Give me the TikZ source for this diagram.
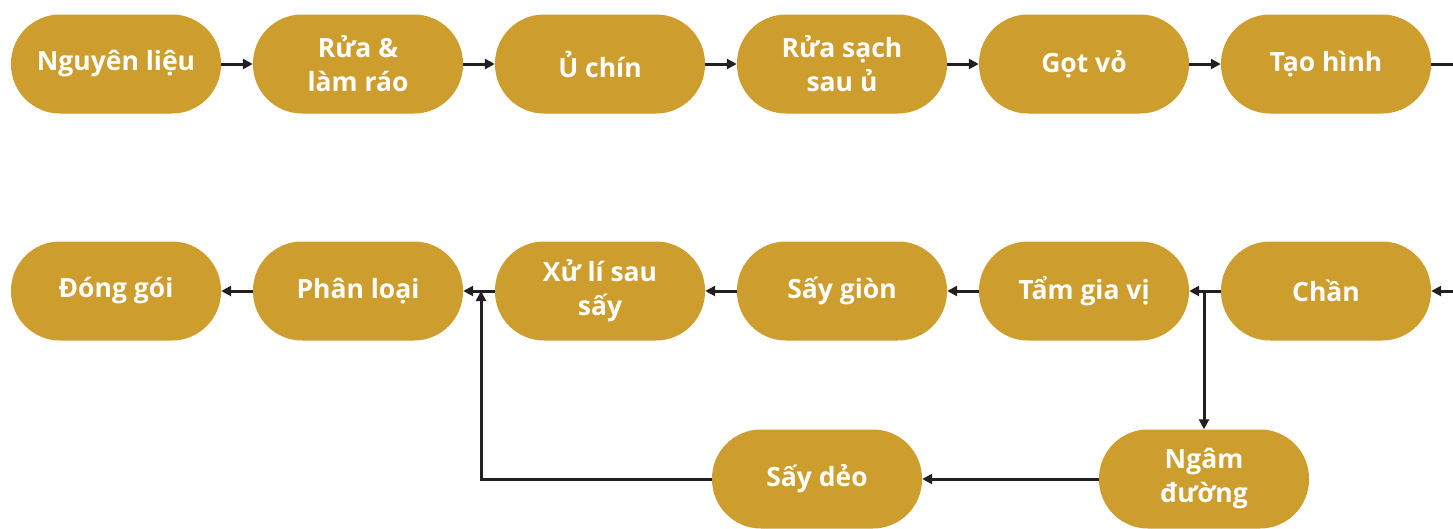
\documentclass[tikz,border=0pt]{standalone}
\usepackage{fontspec}
\setmainfont{Open Sans}
\usetikzlibrary{arrows.meta}
\definecolor{gold}{RGB}{205,157,46}
\definecolor{ink}{RGB}{35,31,32}
\tikzset{
  stepbox/.style={rectangle, rounded corners=49pt, fill=gold, draw=none,
    minimum width=210pt, minimum height=99pt, inner sep=0pt,
    text=white, align=center, font=\fontsize{26.5}{34}\selectfont\bfseries},
  conn/.style={draw=ink, line width=3pt, -{Triangle[length=10pt,width=10pt]}}
}
\begin{document}
\begin{tikzpicture}[x=1pt,y=-1pt]
\useasboundingbox (0,0) rectangle (1453,528);
% row 1
\node[stepbox] (n1) at (116,64) {Nguyên liệu};
\node[stepbox] (n2) at (358,64) {Rửa \&\\làm ráo};
\node[stepbox] (n3) at (600,64) {Ủ chín};
\node[stepbox] (n4) at (842,64) {Rửa sạch\\sau ủ};
\node[stepbox] (n5) at (1084,64) {Gọt vỏ};
\node[stepbox] (n6) at (1326,64) {Tạo hình};
% row 2
\node[stepbox] (m1) at (116,291) {Đóng gói};
\node[stepbox] (m2) at (358,291) {Phân loại};
\node[stepbox] (m3) at (600,291) {Xử lí sau\\sấy};
\node[stepbox] (m4) at (842,291) {Sấy giòn};
\node[stepbox] (m5) at (1084,291) {Tẩm gia vị};
\node[stepbox] (m6) at (1326,291) {Chần};
% row 3
\node[stepbox] (s1) at (817,479) {Sấy dẻo};
\node[stepbox] (s2) at (1204,479) {Ngâm\\đường};
% connectors row 1
\draw[conn] (n1) -- (n2);
\draw[conn] (n2) -- (n3);
\draw[conn] (n3) -- (n4);
\draw[conn] (n4) -- (n5);
\draw[conn] (n5) -- (n6);
\coordinate (wrap) at (1480,64);
\draw[conn] (n6.east) -- (wrap) |- (m6.east);
% row 2
\draw[conn] (m6) -- (m5);
\draw[conn] (m5) -- (m4);
\draw[conn] (m4) -- (m3);
\draw[conn] (m3) -- (m2);
\draw[conn] (m2) -- (m1);
% branch
\coordinate (br) at (1204,291);
\draw[conn] (br) -- (s2.north);
\draw[conn] (s2) -- (s1);
\coordinate (ret) at (481,291);
\draw[conn] (s1.west) -| (ret);
\end{tikzpicture}
\end{document}
